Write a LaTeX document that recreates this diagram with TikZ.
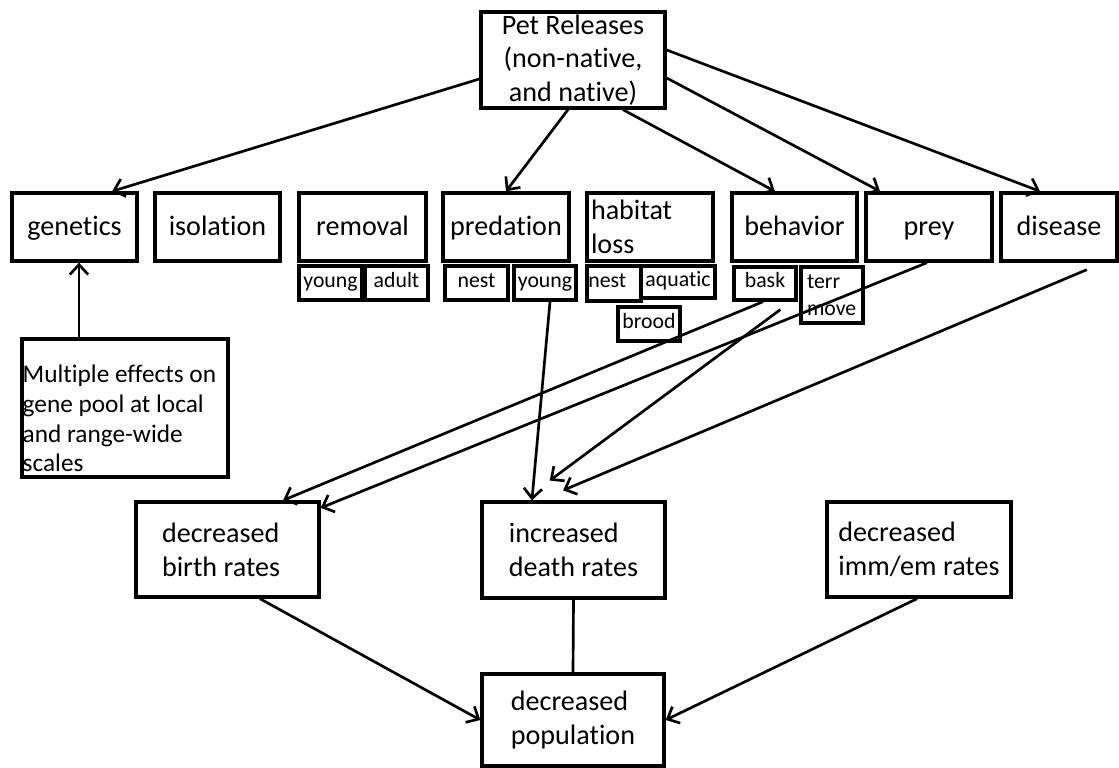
\documentclass[tikz,border=0pt]{standalone}
\usepackage{fontspec}
\setmainfont{Carlito}[Ligatures=NoCommon]
\usetikzlibrary{arrows.meta,positioning}

\begin{document}
\begin{tikzpicture}
  \tikzstyle{box}=[rectangle, draw, line width=2.4pt, font=\fontsize{20}{24}\selectfont, align=center, inner sep=0pt]
  \tikzstyle{oneline}=[text height=16pt, text depth=4pt]
  \tikzstyle{tag}=[rectangle, draw, line width=2.4pt, font=\fontsize{15.5}{19}\selectfont, inner sep=1pt, minimum height=0.85cm]
  \tikzstyle{tagline}=[text height=10pt, text depth=4pt]
  \tikzstyle{link}=[line width=1.9pt, -{Straight Barb[length=7pt,width=13pt]}]

  \useasboundingbox (0,0) rectangle (27.975,19.2);

  % Source
  \node[box, minimum width=4.6cm, minimum height=2.4cm] (pet) at (14.325,17.7) {Pet Releases\\(non-native,\\and native)};

  % Effects
  \node[box, oneline, minimum width=3.125cm, minimum height=1.7cm] (gen) at (1.8625,13.525) {genetics};
  \node[box, oneline, minimum width=3.125cm, minimum height=1.7cm] (iso) at (5.4375,13.525) {isolation};
  \node[box, oneline, minimum width=3.175cm, minimum height=1.7cm] (rem) at (9.0625,13.525) {removal};
  \node[box, oneline, minimum width=3.15cm, minimum height=1.7cm] (pred) at (12.65,13.525) {predation};
  \node[box, minimum width=3.15cm, minimum height=1.7cm, inner xsep=0.1cm, text width=2.95cm, align=left] (hab) at (16.25,13.525) {habitat\\loss};
  \node[box, oneline, minimum width=3.125cm, minimum height=1.7cm] (beh) at (19.8625,13.525) {behavior};
  \node[box, oneline, minimum width=3.15cm, minimum height=1.7cm] (prey) at (23.225,13.525) {prey};
  \node[box, oneline, minimum width=2.9cm, minimum height=1.7cm] (dis) at (26.475,13.525) {disease};

  % Sub-effects
  \node[tag, tagline, minimum width=1.575cm] (ryoung) at (8.2625,12.125) {young};
  \node[tag, tagline, minimum width=1.575cm] (radult) at (9.9125,12.125) {adult};
  \node[tag, tagline, minimum width=1.575cm] (pnest) at (11.9125,12.125) {nest};
  \node[tag, tagline, minimum width=1.55cm] (pyoung) at (13.625,12.125) {young};
  \node[tag, tagline, minimum width=1.35cm, minimum height=0.875cm, text width=1.28cm, align=left] (hnest) at (15.35,12.1125) {nest};
  \node[tag, tagline, minimum width=1.85cm, minimum height=0.8cm] (haqua) at (16.95,12.15) {aquatic};
  \node[tag, tagline, minimum width=1.55cm] (brood) at (16.225,11.1) {brood};
  \node[tag, tagline, minimum width=1.55cm, minimum height=0.825cm] (bask) at (19.125,12.1125) {bask};
  \node[tag, minimum width=1.55cm, minimum height=1.4cm, inner xsep=0.15cm, text width=1.25cm, align=left] (terr) at (20.8,11.825) {terr\\move};

  % Gene pool note
  \node[box, minimum width=5.15cm, minimum height=3.45cm] (multi) at (3.125,9.0) {};
  \node[anchor=south west, font=\fontsize{18}{21.2}\selectfont, align=left, inner xsep=1.5pt, inner ysep=0.16cm] (multitext) at (multi.south west) {Multiple effects on\\gene pool at local\\and range-wide\\scales};

  % Rates
  \node[box, minimum width=4.575cm, minimum height=2.375cm, inner xsep=0.65cm, text width=3.275cm, align=flush left] (birth) at (5.6875,5.4625) {decreased\\birth rates};
  \node[box, minimum width=4.575cm, minimum height=2.4cm, align=left] (death) at (14.3375,5.45) {increased\\death rates};
  \node[box, minimum width=4.6cm, minimum height=2.375cm, align=left] (imm) at (22.975,5.4625) {decreased\\imm/em rates};

  % Outcome
  \node[box, minimum width=4.55cm, minimum height=2.3cm, align=left] (pop) at (14.325,1.2) {decreased\\population};

  % Releases to effects
  \draw[link] ([yshift=-0.475cm]pet.west) -- ([xshift=0.94cm]gen.north);
  \draw[link] ([xshift=-0.125cm]pet.south) -- (pred.north);
  \draw[link] ([xshift=1.25cm]pet.south) -- ([xshift=-0.49cm]beh.north);
  \draw[link] ([yshift=-0.45cm]pet.east) -- ([xshift=-1.225cm]prey.north);
  \draw[link] ([yshift=0.25cm]pet.east) -- ([xshift=-0.475cm]dis.north);
  \draw[link] ([xshift=-1.15cm]multi.north) -- ([xshift=-1.15cm]multi.north |- gen.south);

  % Effects to rates
  \draw[link] ([xshift=0.125cm]pyoung.south) -- ([xshift=-1.04cm]death.north);
  \draw[link] ([xshift=-0.05cm]bask.south) -- ([xshift=1.39cm]birth.north);
  \draw[link, shorten <=0.33cm, shorten >=0.83cm] ([xshift=0.65cm]bask.south) -- ([xshift=-1.26cm]death.north);
  \draw[link] ([xshift=-0.05cm]prey.south) -- ([yshift=1.04cm]birth.east);
  \draw[link, shorten <=0.45cm, shorten >=0.64cm] ([xshift=1.11cm]dis.south) -- ([xshift=-0.85cm]death.north);

  % Rates to population
  \draw[link] ([xshift=0.81cm]birth.south) -- (pop.west);
  \draw[line width=1.9pt] (death.south) -- (pop.north);
  \draw[link] ([xshift=-0.05cm]imm.south) -- (pop.east);
\end{tikzpicture}
\end{document}
